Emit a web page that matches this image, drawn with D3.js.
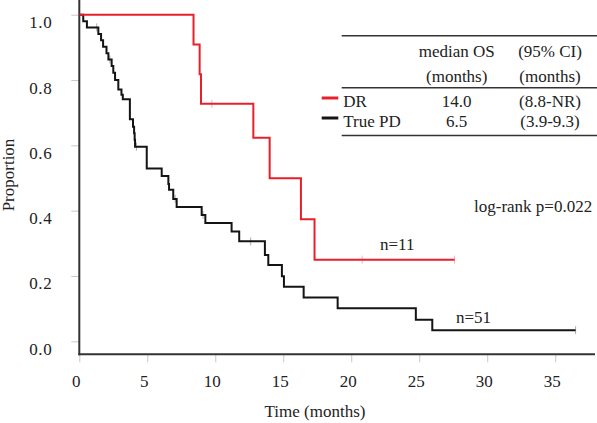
<!DOCTYPE html>
<html><head><meta charset="utf-8">
<script src="https://cdn.jsdelivr.net/npm/d3@7"></script>
<style>
html,body{margin:0;padding:0;background:#fff;}
svg{display:block;font-family:"Liberation Serif","Times New Roman",serif;}
</style></head>
<body><svg id="c" width="597" height="423"></svg>
<script>
// ---- data ----
const xTicks = [0, 5, 10, 15, 20, 25, 30, 35];
const yTicks = [0.0, 0.2, 0.4, 0.6, 0.8, 1.0];

const drTimes = [0, 8.4, 8.85, 8.95, 12.8, 14.0, 16.3, 17.3];
const drSurv  = [1.0, 0.909, 0.818, 0.727, 0.623, 0.499, 0.374, 0.250];
const drEnd = 27.6;
const drCensor = [9.75, 20.8, 27.6];

const pdTimes = [0, 0.29, 0.56, 1.4, 1.6, 1.75, 2.0, 2.14, 2.38, 2.5, 2.63, 2.87, 3.1, 3.2, 3.72, 3.95, 4.03, 4.07, 4.1,
                 4.96, 6.06, 6.55, 6.6, 6.91, 7.16, 9.0, 9.27, 11.2, 11.76, 13.65, 13.9, 14.9, 15.05, 16.5, 19.0, 24.75, 25.96];
const pdSurv  = [1.0, 0.980, 0.961, 0.941, 0.922, 0.902, 0.882, 0.863, 0.843, 0.822, 0.800, 0.771, 0.755, 0.741, 0.680, 0.657, 0.637, 0.617, 0.596,
                 0.529, 0.506, 0.482, 0.464, 0.436, 0.411, 0.387, 0.362, 0.336, 0.306, 0.264, 0.234, 0.199, 0.167, 0.134, 0.101, 0.066, 0.034];
const pdEnd = 36.5;
const pdCensor = [1.28, 2.25, 4.2, 7.05, 9.1, 12.6, 36.5];

const groups = ["DR", "True PD"];
const medianOS = ["14.0", "6.5"];
const ci = ["(8.8-NR)", "(3.9-9.3)"];
const colors = ["#e8202a", "#141414"];

// ---- scales ----
const svg = d3.select("#c");
const x = d3.scaleLinear().domain([0, 38]).range([79.3, 596]);
const y = d3.scaleLinear().domain([0, 1]).range([341.3, 14.7]);
const axisY = 354.3;
const FS = 17;

// axes ticks
const gy = svg.append("g").attr("transform", "translate(79.3,0)")
  .call(d3.axisLeft(y).tickValues(yTicks).tickFormat(d3.format(".1f")).tickSize(8).tickPadding(19));
gy.select(".domain").remove();
gy.selectAll("line").attr("stroke", "#c8c8c8").attr("stroke-width", 1);
gy.selectAll("text").attr("dy", null).attr("y", 13).attr("font-size", FS)
  .attr("font-family", "Liberation Serif").attr("fill", "#222").attr("letter-spacing", "0.6px");

const gx = svg.append("g").attr("transform", `translate(0,${axisY})`)
  .call(d3.axisBottom(x).tickValues(xTicks).tickSize(8));
gx.select(".domain").remove();
gx.selectAll("line").attr("stroke", "#c8c8c8").attr("stroke-width", 1);
gx.selectAll("text").attr("dy", null).attr("y", 32.5).attr("x", -3.5).attr("font-size", FS)
  .attr("font-family", "Liberation Serif").attr("fill", "#222");

// axis lines
svg.append("line").attr("x1", 79.3).attr("x2", 79.3).attr("y1", 0).attr("y2", axisY + 1)
  .attr("stroke", "#333").attr("stroke-width", 2);
svg.append("line").attr("x1", 78.3).attr("x2", 595).attr("y1", axisY).attr("y2", axisY)
  .attr("stroke", "#333").attr("stroke-width", 2);

// curves
function stepData(times, surv, end) {
  const pts = times.map((t, i) => [t, surv[i]]);
  pts.push([end, surv[surv.length - 1]]);
  return pts;
}
function survAt(times, surv, t) {
  let s = surv[0];
  for (let i = 0; i < times.length; i++) if (times[i] <= t) s = surv[i];
  return s;
}
const line = d3.line().x(d => x(d[0])).y(d => y(d[1])).curve(d3.curveStepAfter);

const series = [
  {times: pdTimes, surv: pdSurv, end: pdEnd, cens: pdCensor, color: colors[1]},
  {times: drTimes, surv: drSurv, end: drEnd, cens: drCensor, color: colors[0]}
];
series.forEach(s => {
  svg.append("path").datum(stepData(s.times, s.surv, s.end)).attr("d", line)
    .attr("fill", "none").attr("stroke", s.color).attr("stroke-width", 2);
  svg.append("g").selectAll("line").data(s.cens).join("line")
    .attr("x1", d => x(d)).attr("x2", d => x(d))
    .attr("y1", d => y(survAt(s.times, s.surv, d)) - 4)
    .attr("y2", d => y(survAt(s.times, s.surv, d)) + 4)
    .attr("stroke", s.color).attr("stroke-opacity", 0.35).attr("stroke-width", 1);
});

// axis titles
svg.append("text").attr("x", 315).attr("y", 416.5).attr("text-anchor", "middle")
  .attr("font-size", FS).attr("fill", "#222").text("Time (months)");
svg.append("text").attr("transform", "translate(14,175) rotate(-90)").attr("text-anchor", "middle")
  .attr("font-size", FS).attr("fill", "#222").text("Proportion");

// table
const tl = 341.7, tr = 597;
[35.7, 87.7, 135.5].forEach(yy => svg.append("line").attr("x1", tl).attr("x2", tr)
  .attr("y1", yy).attr("y2", yy).attr("stroke", "#333").attr("stroke-width", 1.5));
const c1 = 456.7, c2 = 550;
const hdr = [["median OS", c1, 57.3], ["(months)", c1, 81.5], ["(95% CI)", c2, 57.3], ["(months)", c2, 81.5]];
hdr.forEach(h => svg.append("text").attr("x", h[1]).attr("y", h[2]).attr("text-anchor", "middle")
  .attr("font-size", FS).attr("fill", "#222").text(h[0]));
const rowY = [106.5, 126.5];
groups.forEach((g, i) => {
  svg.append("line").attr("x1", 321.7).attr("x2", 338.3).attr("y1", rowY[i] - 8.5).attr("y2", rowY[i] - 8.5)
    .attr("stroke", colors[i]).attr("stroke-width", 3);
  svg.append("text").attr("x", 343.3).attr("y", rowY[i]).attr("font-size", FS).attr("fill", "#222").text(g);
  svg.append("text").attr("x", c1).attr("y", rowY[i]).attr("text-anchor", "middle").attr("font-size", FS).attr("fill", "#222").text(medianOS[i]);
  svg.append("text").attr("x", c2).attr("y", rowY[i]).attr("text-anchor", "middle").attr("font-size", FS).attr("fill", "#222").text(ci[i]);
});

// annotations
svg.append("text").attr("x", 474).attr("y", 212).attr("font-size", FS).attr("fill", "#222").text("log-rank p=0.022");
svg.append("text").attr("x", 380).attr("y", 250).attr("font-size", FS).attr("fill", "#222").text("n=11");
svg.append("text").attr("x", 456).attr("y", 322.5).attr("font-size", FS).attr("fill", "#222").text("n=51");
</script></body></html>
